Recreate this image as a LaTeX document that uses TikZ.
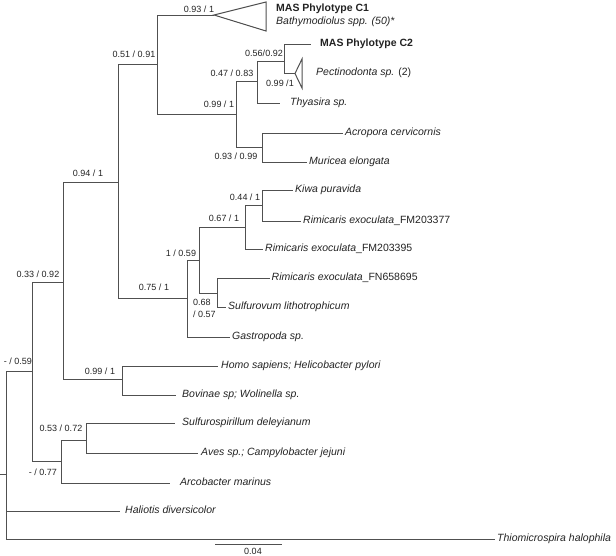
\documentclass[tikz,border=0pt]{standalone}
\usepackage{fontspec}
\setmainfont{Liberation Sans}
\definecolor{lc}{RGB}{80,80,80}
\definecolor{tc}{RGB}{35,35,35}
\begin{document}
\begin{tikzpicture}[x=1pt,y=-1pt,
  br/.style={draw=lc, line width=1pt},
  leaf/.style={anchor=west, inner ysep=0pt, inner xsep=#1, text=tc,
    font=\fontsize{10.5}{12}\selectfont\itshape, text height=7.5pt, text depth=2pt},
  leaf/.default=2pt,
  boldleaf/.style={anchor=west, inner ysep=0pt, inner xsep=#1, text=tc,
    font=\fontsize{10.5}{12}\selectfont\bfseries, text height=7.5pt, text depth=2pt},
  boldleaf/.default=2pt,
  sup/.style={font=\fontsize{9}{10}\selectfont, inner sep=0pt, text=tc},
]
\useasboundingbox (0,0) rectangle (616,555);

% internal nodes
\coordinate (stem) at (0,474);
\coordinate (R) at (6,474);
\coordinate (n59) at (32,371);
\coordinate (n92) at (63,282);
\coordinate (n94) at (118,182);
\coordinate (n91) at (157,64);
\coordinate (c1) at (214,15);
\coordinate (n99a) at (236,114);
\coordinate (n83) at (257,81);
\coordinate (n56) at (284,61);
\coordinate (pec) at (295,73.5);
\coordinate (n99b) at (262,147);
\coordinate (n75) at (187,298);
\coordinate (n159) at (199,260);
\coordinate (n67) at (245,227);
\coordinate (n44) at (262,205);
\coordinate (n68) at (217,293);
\coordinate (n99c) at (122,379);
\coordinate (n77) at (61,461);
\coordinate (n53) at (86,440);

% triangle corners
\coordinate (c1a) at (266,2);
\coordinate (c1b) at (266,31);
\coordinate (peca) at (302,59);
\coordinate (pecb) at (302,88);

% leaves
\node[boldleaf] (c1t) at (274,9) {MAS Phylotype C1};
\node[leaf] (c1s) at (274,22) {Bathymodiolus spp. (50)*};
\node[boldleaf=9pt] (c2) at (311,44) {MAS Phylotype C2};
\node[leaf] (pect) at (314,73) {Pectinodonta sp. \upshape(2)};
\node[leaf=10pt] (thy) at (280,103) {Thyasira sp.};
\node[leaf] (acr) at (343,133) {Acropora cervicornis};
\node[leaf] (mur) at (307,162) {Muricea elongata};
\node[leaf] (kiwa) at (293,190) {Kiwa puravida};
\node[leaf] (r77) at (301,221) {Rimicaris exoculata\upshape\_FM203377};
\node[leaf] (r95) at (263,249) {Rimicaris exoculata\upshape\_FM203395};
\node[leaf=1.5pt] (r58) at (270,278) {Rimicaris exoculata\upshape\_FN658695};
\node[leaf] (sulf) at (226,307) {Sulfurovum lithotrophicum};
\node[leaf] (gas) at (230,337) {Gastropoda sp.};
\node[leaf=3pt] (homo) at (218,366) {Homo sapiens; Helicobacter pylori};
\node[leaf=6pt] (bov) at (176,395) {Bovinae sp; Wolinella sp.};
\node[leaf=7pt] (sulfsp) at (175,423) {Sulfurospirillum deleyianum};
\node[leaf=3pt] (aves) at (198,453) {Aves sp.; Campylobacter jejuni};
\node[leaf=10pt] (arc) at (170,483) {Arcobacter marinus};
\node[leaf=5pt] (hal) at (120,511) {Haliotis diversicolor};
\node[leaf] (thio) at (495,539) {Thiomicrospira halophila};

% branches
\draw[br] (stem) -- (R);
\draw[br] (R) |- (n59);
\draw[br] (R) |- (hal.west);
\draw[br] (R) |- (thio.west);
\draw[br] (n59) |- (n92);
\draw[br] (n59) |- (n77);
\draw[br] (n92) |- (n94);
\draw[br] (n92) |- (n99c);
\draw[br] (n94) |- (n91);
\draw[br] (n94) |- (n75);
\draw[br] (n91) |- (c1);
\draw[br] (n91) |- (n99a);
\draw[br] (c1) -- (c1a) -- (c1b) -- cycle;
\draw[br] (n99a) |- (n83);
\draw[br] (n99a) |- (n99b);
\draw[br] (n83) |- (n56);
\draw[br] (n83) |- (thy.west);
\draw[br] (n56) |- (c2.west);
\draw[br] (n56) |- (pec);
\draw[br] (pec) -- (peca) -- (pecb) -- cycle;
\draw[br] (n99b) |- (acr.west);
\draw[br] (n99b) |- (mur.west);
\draw[br] (n75) |- (n159);
\draw[br] (n75) |- (gas.west);
\draw[br] (n159) |- (n67);
\draw[br] (n159) |- (n68);
\draw[br] (n67) |- (n44);
\draw[br] (n67) |- (r95.west);
\draw[br] (n44) |- (kiwa.west);
\draw[br] (n44) |- (r77.west);
\draw[br] (n68) |- (r58.west);
\draw[br] (n68) |- (sulf.west);
\draw[br] (n99c) |- (homo.west);
\draw[br] (n99c) |- (bov.west);
\draw[br] (n77) |- (n53);
\draw[br] (n77) |- (arc.west);
\draw[br] (n53) |- (sulfsp.west);
\draw[br] (n53) |- (aves.west);

% support values
\node[sup] (s1) at (199,9) {0.93 / 1};
\node[sup] (s2) at (134,54) {0.51 / 0.91};
\node[sup] (s3) at (264,53) {0.56/0.92};
\node[sup] (s4) at (232,73) {0.47 / 0.83};
\node[sup] (s5) at (280,83) {0.99 /1};
\node[sup] (s6) at (219,104) {0.99 / 1};
\node[sup] (s7) at (236,156) {0.93 / 0.99};
\node[sup] (s8) at (88,173) {0.94 / 1};
\node[sup] (s9) at (245,197) {0.44 / 1};
\node[sup] (s10) at (224,218) {0.67 / 1};
\node[sup] (s11) at (181,253) {1 / 0.59};
\node[sup] (s12) at (154,287) {0.75 / 1};
\node[sup, anchor=west, align=left, font=\fontsize{9}{12}\selectfont] (s13) at (193,308) {0.68\\/ 0.57};
\node[sup] (s14) at (38,274) {0.33 / 0.92};
\node[sup] (s15) at (18,361) {- / 0.59};
\node[sup] (s16) at (100,371) {0.99 / 1};
\node[sup] (s17) at (61,428) {0.53 / 0.72};
\node[sup] (s18) at (43,472) {- / 0.77};

% scale bar
\coordinate (sba) at (215,544);
\coordinate (sbb) at (282,544);
\draw[br] (sba) -- (sbb);
\node[sup] (sbl) at (253,551) {0.04};
\end{tikzpicture}
\end{document}
